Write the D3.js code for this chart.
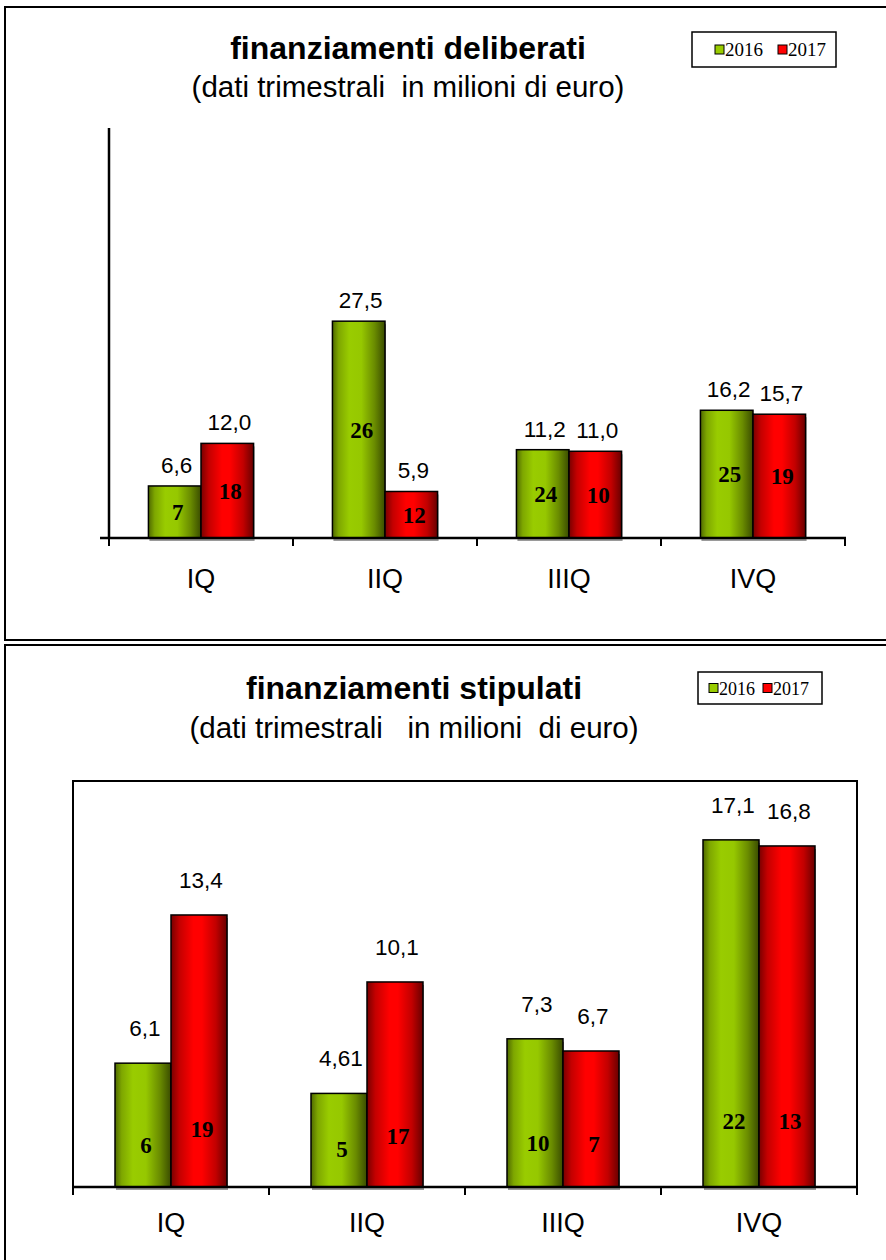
<!DOCTYPE html>
<html>
<head>
<meta charset="utf-8">
<script src="https://cdn.jsdelivr.net/npm/d3@7/dist/d3.min.js"></script>
<style>
  html, body { margin: 0; padding: 0; background: #fff; }
  svg { display: block; }
  text { white-space: pre; }
</style>
</head>
<body>
<svg id="chart" width="886" height="1260"></svg>
<script>
// Quarterly financing, millions of euro
const quarters = ["IQ", "IIQ", "IIIQ", "IVQ"];
const years = ["2016", "2017"];

const deliberati2016 = [6.6, 27.5, 11.2, 16.2];
const deliberati2017 = [12.0, 5.9, 11.0, 15.7];
const deliberatiCount2016 = [7, 26, 24, 25];
const deliberatiCount2017 = [18, 12, 10, 19];

const stipulati2016 = [6.1, 4.61, 7.3, 17.1];
const stipulati2017 = [13.4, 10.1, 6.7, 16.8];
const stipulatiCount2016 = [6, 5, 10, 22];
const stipulatiCount2017 = [19, 17, 7, 13];

const deliberatiTitle = "finanziamenti deliberati";
const deliberatiSubtitle = "(dati trimestrali  in milioni di euro)";
const stipulatiTitle = "finanziamenti stipulati";
const stipulatiSubtitle = "(dati trimestrali   in milioni  di euro)";

const SANS = "'Liberation Sans', Arial, sans-serif";
const SERIF = "'Liberation Serif', 'Times New Roman', serif";

const svg = d3.select("#chart");
const defs = svg.append("defs");

// cylinder-like horizontal shading for the bars
function addGradient(id, stops) {
  const g = defs.append("linearGradient").attr("id", id)
    .attr("x1", "0%").attr("x2", "100%").attr("y1", "0%").attr("y2", "0%");
  stops.forEach(([o, c]) => g.append("stop").attr("offset", o).attr("stop-color", c));
}
addGradient("grad2016", [["0%", "#4f6900"], ["12%", "#7ea700"], ["32%", "#99cc00"], ["55%", "#96c800"], ["80%", "#6a8c00"], ["100%", "#3a4c00"]]);
addGradient("grad2017", [["0%", "#780000"], ["15%", "#c40000"], ["40%", "#ff0000"], ["55%", "#ff0000"], ["80%", "#c20000"], ["100%", "#680000"]]);

const fills = { "2016": "url(#grad2016)", "2017": "url(#grad2017)" };
const legendFills = { "2016": "#99cc00", "2017": "#ff0000" };

const fmtValue = v => {
  const tenth = v * 10;
  const s = Math.abs(tenth - Math.round(tenth)) < 1e-9 ? v.toFixed(1) : String(v);
  return s.replace(".", ",");
};

function drawPanel(cfg) {
  const g = svg.append("g");

  // panel frame
  g.append("rect")
    .attr("x", cfg.frame.x).attr("y", cfg.frame.y)
    .attr("width", cfg.frame.w).attr("height", cfg.frame.h)
    .attr("fill", "#fff").attr("stroke", "#000").attr("stroke-width", 2);

  // titles
  g.append("text").attr("x", cfg.titleX).attr("y", cfg.titleY)
    .attr("text-anchor", "middle").attr("font-family", SANS)
    .attr("font-weight", "bold").attr("font-size", 32).text(cfg.title);
  g.append("text").attr("x", cfg.titleX).attr("y", cfg.subtitleY)
    .attr("text-anchor", "middle").attr("font-family", SANS)
    .attr("font-size", 29.5).text(cfg.subtitle);

  // legend
  const lg = g.append("g").attr("transform", `translate(${cfg.legend.x},${cfg.legend.y})`);
  lg.append("rect").attr("width", cfg.legend.w).attr("height", cfg.legend.h)
    .attr("fill", "#fff").attr("stroke", "#000").attr("stroke-width", 1.5);
  years.forEach((yr, i) => {
    const ox = cfg.legend.padX + i * cfg.legend.step;
    lg.append("rect").attr("x", ox).attr("y", cfg.legend.h / 2 - 4.5)
      .attr("width", 9).attr("height", 9)
      .attr("fill", legendFills[yr]).attr("stroke", "#000").attr("stroke-width", 1);
    lg.append("text").attr("x", ox + 10).attr("y", cfg.legend.h / 2 + 6.5)
      .attr("font-family", SERIF).attr("font-size", cfg.legend.font).text(yr);
  });

  const x = d3.scaleBand().domain(quarters).range([cfg.x0, cfg.x1]).paddingInner(0).paddingOuter(0);
  const xs = d3.scaleBand().domain(years).range([0, x.bandwidth()]).paddingInner(0).paddingOuter(0.75);
  const y = d3.scaleLinear().domain([0, cfg.yMax]).range([cfg.base, cfg.top]);

  const rows = [];
  quarters.forEach((q, i) => {
    rows.push({ q, yr: "2016", v: cfg.s2016[i], n: cfg.c2016[i] });
    rows.push({ q, yr: "2017", v: cfg.s2017[i], n: cfg.c2017[i] });
  });

  // plot area frame (lower chart only)
  if (cfg.boxed) {
    g.append("rect").attr("x", cfg.x0).attr("y", cfg.top)
      .attr("width", cfg.x1 - cfg.x0).attr("height", cfg.base - cfg.top)
      .attr("fill", "none").attr("stroke", "#000").attr("stroke-width", 2);
  }

  // bar shadows
  g.selectAll(".shadow").data(rows).join("rect")
    .attr("x", d => x(d.q) + xs(d.yr) + 1)
    .attr("y", d => y(d.v) + 3)
    .attr("width", xs.bandwidth())
    .attr("height", d => cfg.base - y(d.v))
    .attr("fill", "#9a9a9a");

  // bars
  g.selectAll(".bar").data(rows).join("rect")
    .attr("x", d => x(d.q) + xs(d.yr))
    .attr("y", d => y(d.v))
    .attr("width", xs.bandwidth())
    .attr("height", d => cfg.base - y(d.v))
    .attr("fill", d => fills[d.yr])
    .attr("stroke", "#000").attr("stroke-width", 1.5);

  // axes
  const xAxis = d3.axisBottom(x).tickSize(0).tickFormat("");
  const ax = g.append("g").attr("transform", `translate(0,${cfg.base})`).call(xAxis);
  ax.select(".domain").remove();
  g.append("line").attr("x1", cfg.axisLeft).attr("x2", cfg.x1 + 1)
    .attr("y1", cfg.base).attr("y2", cfg.base)
    .attr("stroke", "#000").attr("stroke-width", 2.5);
  const bounds = quarters.map(q => x(q)).concat([cfg.x1]);
  g.selectAll(".tk").data(bounds).join("line")
    .attr("x1", d => d).attr("x2", d => d)
    .attr("y1", cfg.base).attr("y2", cfg.base + 8)
    .attr("stroke", "#000").attr("stroke-width", 2);
  if (!cfg.boxed) {
    g.append("line").attr("x1", cfg.x0).attr("x2", cfg.x0)
      .attr("y1", cfg.top).attr("y2", cfg.base)
      .attr("stroke", "#000").attr("stroke-width", 2.5);
  }

  // category labels
  g.selectAll(".cat").data(quarters).join("text")
    .attr("x", d => x(d) + x.bandwidth() / 2)
    .attr("y", cfg.base + cfg.catOffset)
    .attr("text-anchor", "middle").attr("font-family", SANS)
    .attr("font-size", 27).text(d => d);

  // value labels above bars
  g.selectAll(".val").data(rows).join("text")
    .attr("x", d => x(d.q) + xs(d.yr) + xs.bandwidth() / 2 + 2)
    .attr("y", d => y(d.v) - cfg.valueGap)
    .attr("text-anchor", "middle").attr("font-family", SANS)
    .attr("font-size", 22.5).text(d => fmtValue(d.v));

  // count labels inside bars
  g.selectAll(".cnt").data(rows).join("text")
    .attr("x", d => x(d.q) + xs(d.yr) + xs.bandwidth() / 2 + 3)
    .attr("y", d => cfg.countY(cfg.base - y(d.v)) + 8)
    .attr("text-anchor", "middle").attr("font-family", SERIF)
    .attr("font-weight", "bold").attr("font-size", 23).text(d => d.n);
}

drawPanel({
  frame: { x: 5, y: 7, w: 890, h: 633 },
  title: deliberatiTitle, subtitle: deliberatiSubtitle,
  titleX: 408, titleY: 59, subtitleY: 97,
  legend: { x: 692, y: 32, w: 144, h: 35, padX: 23, step: 63, font: 19 },
  s2016: deliberati2016, s2017: deliberati2017,
  c2016: deliberatiCount2016, c2017: deliberatiCount2017,
  x0: 109, x1: 845, axisLeft: 100, base: 538, top: 128, yMax: 52,
  boxed: false, catOffset: 50, valueGap: 13,
  countY: h => 538 - h / 2
});

drawPanel({
  frame: { x: 5, y: 645, w: 890, h: 620 },
  title: stipulatiTitle, subtitle: stipulatiSubtitle,
  titleX: 414, titleY: 699, subtitleY: 738,
  legend: { x: 698, y: 672, w: 124, h: 32, padX: 11, step: 54, font: 18 },
  s2016: stipulati2016, s2017: stipulati2017,
  c2016: stipulatiCount2016, c2017: stipulatiCount2017,
  x0: 73, x1: 857, axisLeft: 73, base: 1187, top: 781, yMax: 20,
  boxed: true, catOffset: 45, valueGap: 27,
  countY: h => 1187 - (28 + 0.11 * h)
});
</script>
</body>
</html>
